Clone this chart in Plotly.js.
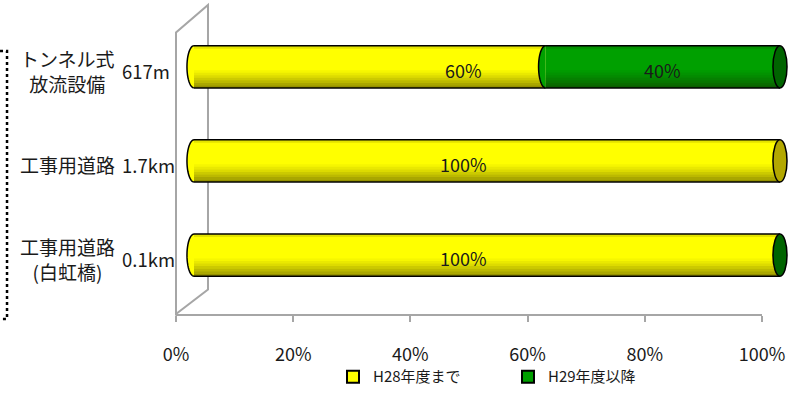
<!DOCTYPE html>
<html>
<head>
<meta charset="utf-8">
<script src="https://cdn.plot.ly/plotly-3.0.1.min.js"></script>
<style>html,body{margin:0;padding:0;background:#fff;}#chart{width:798px;height:398px;}</style>
</head>
<body>
<div id="chart"></div>
<script>
// ---- data ----
const categories = ["トンネル式<br>放流設備", "工事用道路", "工事用道路<br>(白虹橋)"];
const lengths = ["617m", "1.7km", "0.1km"];
const seriesNames = ["H28年度まで", "H29年度以降"];
const h28 = [60, 100, 100];
const h29 = [40, null, 0];
const xTicks = [0, 20, 40, 60, 80, 100];

// ---- style ----
const FONT = "Noto Sans CJK JP";
const YELLOW = "#ffff00", GREEN = "#00a000";
const YELLOW_CAP = "#b3a800", GREEN_CAP = "#006400";
const W = 0.448;      // bar thickness (category units)
const RX = 1.2;       // cylinder end radius (value units)
const GRAY = "#a6a6a6";

const idx = categories.map((_, i) => i);
const totals = h28.map((v, i) => v + (h29[i] || 0));
const zeros = idx.map(() => 0);

const traces = [];
// bodies
traces.push({type:'bar', orientation:'h', x:h28, y:idx, base:zeros, width:W,
  marker:{color:YELLOW, line:{width:0}}, xaxis:'x', yaxis:'y', showlegend:false, hoverinfo:'skip'});
traces.push({type:'bar', orientation:'h', x:h29, y:idx, base:h28, width:W,
  marker:{color:GREEN, line:{width:0}}, xaxis:'x', yaxis:'y', showlegend:false, hoverinfo:'skip'});
// cylinder shading bands: [start from bottom (fraction of thickness), thickness, alpha]
const bands = [[0.00,0.06,0.46],[0.06,0.06,0.37],[0.12,0.06,0.29],[0.18,0.06,0.22],
               [0.24,0.06,0.15],[0.30,0.06,0.09],[0.36,0.06,0.04],[0.93,0.07,0.12]];
bands.forEach(([s,f,a]) => {
  const shift = W/2 - W*(s + f/2);   // reversed axis: larger y is lower
  traces.push({type:'bar', orientation:'h', x:totals, y:idx.map(i => i + shift), base:zeros,
    width:W*f,
    marker:{color:`rgba(25,15,0,${a})`, line:{width:0}}, xaxis:'x', yaxis:'y',
    showlegend:false, hoverinfo:'skip'});
});
// legend entries
[[seriesNames[0], YELLOW],[seriesNames[1], GREEN]].forEach(([n,c]) => {
  traces.push({type:'bar', orientation:'h', x:[null], y:[null], name:n, xaxis:'x2', yaxis:'y',
    marker:{color:c, line:{color:'#000', width:2}}, showlegend:true, hoverinfo:'skip'});
});

// ---- shapes ----
const shapes = [];
shapes.push({type:'path', xref:'paper', yref:'paper', layer:'below',
  path:'M0,0 L0,0.911 L0.0521,1 L0.0521,0.0794 Z', line:{color:GRAY, width:2}, fillcolor:'rgba(0,0,0,0)'});
shapes.push({type:'path', xref:'paper', yref:'paper',
  path:'M-0.2866,0.851 L-0.2752,0.851 L-0.2752,-0.016 L-0.2866,-0.016',
  line:{color:'#000', width:2.5, dash:'dot'}, fillcolor:'rgba(0,0,0,0)'});

function halfEllipse(x0, yc, fill) {
  const pts = [];
  for (let k = 0; k <= 24; k++) {
    const t = -Math.PI/2 + Math.PI * k / 24;
    pts.push([x0 - RX*Math.cos(t), yc + (W/2)*Math.sin(t)]);
  }
  return {type:'path', xref:'x', yref:'y', layer:'above',
    path:'M' + pts.map(p => p[0].toFixed(4)+','+p[1].toFixed(4)).join(' L'),
    fillcolor:fill, line:{color:'#000', width:1.5}};
}
idx.forEach(i => {
  const yc = i;
  shapes.push({type:'line', xref:'x', yref:'y', layer:'above', x0:0, x1:totals[i], y0:yc-W/2, y1:yc-W/2, line:{color:'#000', width:1.5}});
  shapes.push({type:'line', xref:'x', yref:'y', layer:'above', x0:0, x1:totals[i], y0:yc+W/2, y1:yc+W/2, line:{color:'#000', width:1.5}});
  shapes.push(halfEllipse(0, yc, YELLOW));
  if (h29[i] != null && h29[i] > 0) shapes.push(halfEllipse(h28[i], yc, GREEN));
  const capColor = (h29[i] != null) ? GREEN_CAP : YELLOW_CAP;
  shapes.push({type:'circle', xref:'x', yref:'y', layer:'above',
    x0:totals[i]-RX, x1:totals[i]+RX, y0:yc-W/2, y1:yc+W/2,
    fillcolor:capColor, line:{color:'#000', width:1.5}});
});

// ---- annotations ----
const annotations = [];
const PL = 176, PW = 614;
const px2paper = p => (p - PL) / PW;
const firstLabelAt = 0.46 * Math.max(...totals);
idx.forEach(i => {
  annotations.push({xref:'paper', yref:'y', x:px2paper(67), y:i, yshift:-4, text:categories[i],
    showarrow:false, xanchor:'center', yanchor:'middle', align:'center',
    font:{family:FONT, size:19, color:'#1a1a1a'}});
  annotations.push({xref:'paper', yref:'y', x:px2paper(120), y:i, yshift:-4, text:lengths[i],
    showarrow:false, xanchor:'left', yanchor:'middle',
    font:{family:FONT, size:18.5, color:'#1a1a1a'}});
  annotations.push({xref:'x', yref:'y', x:firstLabelAt, y:i, yshift:-3, text:h28[i]+'%',
    showarrow:false, xanchor:'center', yanchor:'middle', font:{family:FONT, size:18, color:'#1a1a1a'}});
  if (h29[i] != null && h29[i] > 0) {
    annotations.push({xref:'x', yref:'y', x:h28[i] + h29[i]/2, y:i, yshift:-3, text:h29[i]+'%',
      showarrow:false, xanchor:'center', yanchor:'middle', font:{family:FONT, size:18, color:'#1a1a1a'}});
  }
});

const layout = {
  width:798, height:398,
  margin:{l:176, r:8, t:5, b:78},
  paper_bgcolor:'#fff', plot_bgcolor:'rgba(0,0,0,0)',
  barmode:'overlay',
  showlegend:true,
  legend:{orientation:'h', x:px2paper(333), xanchor:'left', y:-0.2035, yanchor:'middle',
    font:{family:FONT, size:15, color:'#1a1a1a'}, entrywidth:130, bgcolor:'rgba(0,0,0,0)'},
  xaxis:{domain:[0,1], range:[-3.07, 101.71], visible:false, fixedrange:true, anchor:'y'},
  xaxis2:{domain:[0, 586/614], range:[0,100], anchor:'y',
    tickvals:xTicks, ticktext:xTicks.map(v => v + '%'),
    ticks:'outside', ticklen:6, tickwidth:2, tickcolor:GRAY, ticklabelstandoff:17,
    showline:true, linecolor:GRAY, linewidth:2, showgrid:false, zeroline:false,
    tickfont:{family:FONT, size:18, color:'#1a1a1a'}, fixedrange:true},
  yaxis:{type:'linear', range:[2.625, -0.656], visible:false, fixedrange:true, anchor:'x', domain:[0,1]},
  shapes:shapes,
  annotations:annotations
};

Plotly.newPlot('chart', traces, layout, {staticPlot:true, displayModeBar:false});
</script>
</body>
</html>
